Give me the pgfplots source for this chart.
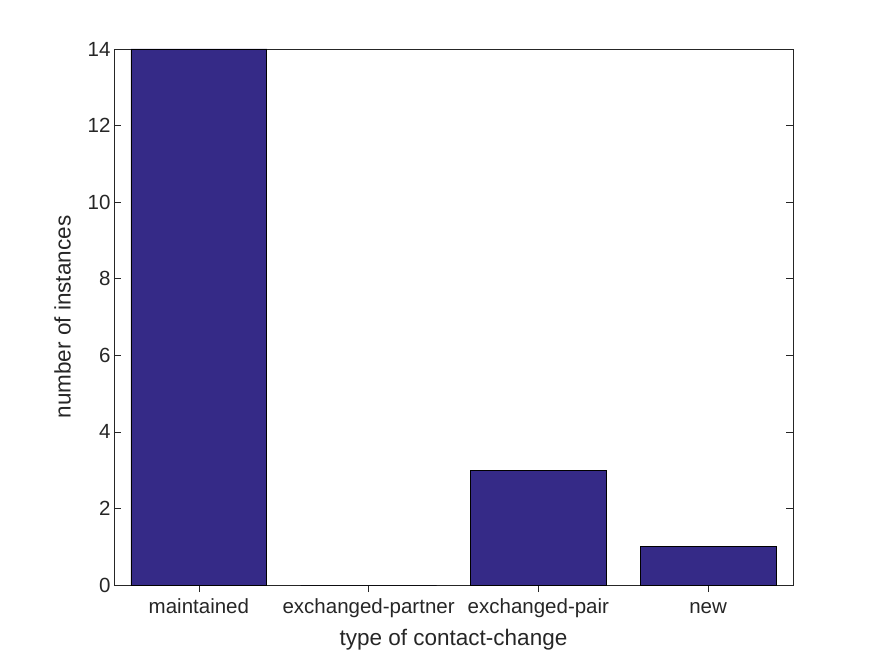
\documentclass[border=0pt]{standalone}
\usepackage{pgfplots}
\pgfplotsset{compat=1.18}
\usepackage{fontspec}
\setmainfont{Liberation Sans}
\definecolor{barblue}{HTML}{352A87}
\definecolor{axgray}{HTML}{262626}
\begin{document}
\begin{tikzpicture}
\path[use as bounding box] (-114bp,-71bp) rectangle (761bp,585bp);
\begin{axis}[
  at={(0,0)}, anchor=south west,
  scale only axis, width=679bp, height=536bp,
  xmin=0.5, xmax=4.5, ymin=0, ymax=14,
  xtick={1,2,3,4},
  xticklabels={maintained,exchanged-partner,exchanged-pair,new},
  ytick={0,2,4,6,8,10,12,14},
  tick align=inside,
  major tick length=7bp,
  xtick pos=bottom,
  ytick pos=both,
  axis line style={axgray, line width=0.6bp},
  tick style={axgray, line width=0.6bp},
  /pgf/number format/assume math mode=true,
  ticklabel style={font=\fontsize{20.5bp}{24bp}\selectfont, text=axgray},
  label style={font=\fontsize{22.5bp}{26bp}\selectfont, text=axgray},
  xlabel={type of contact-change},
  ylabel={number of instances},
  xlabel style={yshift=-5bp},
  ylabel style={yshift=10bp},
  xticklabel style={text height=15bp, text depth=4bp, yshift=-3bp},
  ybar, bar width=0.8, bar shift=0pt,
]
\addplot[fill=barblue, draw=black, line width=0.6bp] coordinates {(1,14) (2,0) (3,3) (4,1)};
\end{axis}
\end{tikzpicture}
\end{document}
